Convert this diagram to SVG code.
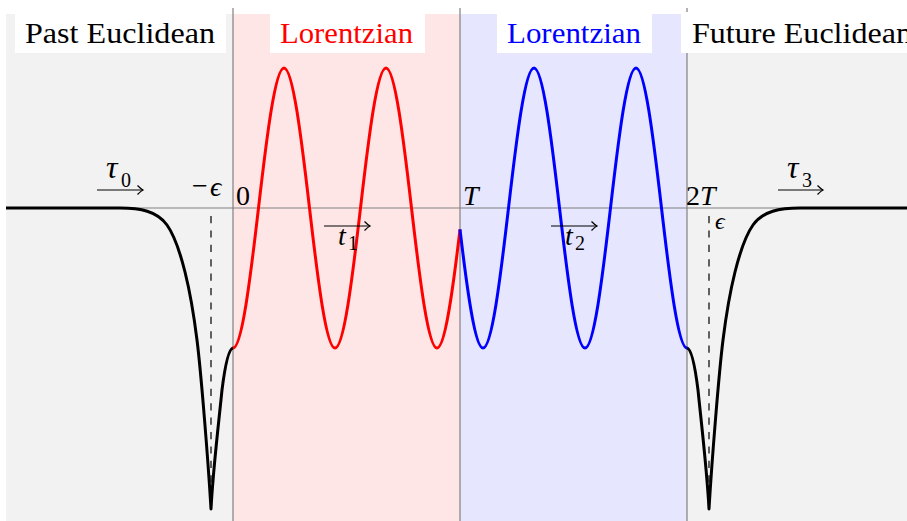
<svg xmlns="http://www.w3.org/2000/svg" width="907" height="521" viewBox="0 0 907 521">
<style>
.ax{stroke:#808080;stroke-width:1.2;fill:none}
.crv{fill:none;stroke-width:3;stroke-linejoin:round}
.dash{stroke:#000;stroke-width:1.2;stroke-dasharray:7.2 7.2;fill:none}
.arr{stroke:#000;stroke-width:1.2;fill:none;marker-end:url(#ah)}
.lbl{font-family:"Liberation Serif","DejaVu Serif",serif;font-size:29px}
.m{font-family:"Liberation Serif","DejaVu Serif",serif;font-size:28px;font-style:italic;fill:#000}
.tau{font-family:"Liberation Serif","DejaVu Serif",serif;font-size:32px;font-style:italic;fill:#000}
.mu{font-family:"Liberation Serif","DejaVu Serif",serif;font-size:28px;fill:#000}
.sub{font-family:"Liberation Serif","DejaVu Serif",serif;font-size:20px;fill:#000}
.box{fill:#fff}
</style>
<defs>
<marker id="ah" viewBox="-7 -6 9 12" refX="0" refY="0" markerWidth="9" markerHeight="12" markerUnits="userSpaceOnUse" orient="auto">
<path d="M-5.5,-4.5 Q-2,-1 0,0 Q-2,1 -5.5,4.5" fill="none" stroke="#000" stroke-width="1.2"/>
</marker>
</defs>
<rect width="907" height="521" fill="#fff"/>
<g id="regions">
<rect x="6" y="14" width="901" height="507" fill="#f2f2f2"/>
<rect x="233" y="14" width="227" height="507" fill="#ffe6e6"/>
<rect x="460" y="14" width="227" height="507" fill="#e6e6ff"/>
</g>
<g id="axes">
<line class="ax" x1="6" y1="208" x2="907" y2="208"/>
<line class="ax" x1="233" y1="8" x2="233" y2="521"/>
<line class="ax" x1="460" y1="8" x2="460" y2="521"/>
<line class="ax" x1="687" y1="8" x2="687" y2="521"/>
<line class="dash" x1="211" y1="216" x2="211" y2="505"/>
<line class="dash" x1="709" y1="216" x2="709" y2="505"/>
</g>
<g id="connectors">
<path id="blackL" class="crv" stroke="#000" d="M6,208 L120,208 C140,208 157,211 167,225 C173,233.4 180,252 185,272 C189,288 193,308 197,340 C201,372 208,459 211,509 C213,470 219,420 222,390 C224,374 228,349 233,348"/>
<use href="#blackL" transform="translate(920,0) scale(-1,1)"/>
<path class="crv" stroke="#f00" d="M233,348 c8.785,0 17.183,-68.28 25.5,-140 c8.317,-71.72 16.715,-140 25.5,-140 c8.785,0 17.183,68.28 25.5,140 c8.317,71.72 16.715,140 25.5,140 c8.785,0 17.183,-68.28 25.5,-140 c8.317,-71.72 16.715,-140 25.5,-140 c8.785,0 17.183,68.28 25.5,140 c8.317,71.72 16.715,140 25.5,140 C444.67,348 452.33,294.7 460,229.4"/>
<path class="crv" stroke="#00f" d="M460,229.4 C467.67,294.7 475.33,348 483,348 c8.785,0 17.183,-68.28 25.5,-140 c8.317,-71.72 16.715,-140 25.5,-140 c8.785,0 17.183,68.28 25.5,140 c8.317,71.72 16.715,140 25.5,140 c8.785,0 17.183,-68.28 25.5,-140 c8.317,-71.72 16.715,-140 25.5,-140 c8.785,0 17.183,68.28 25.5,140 c8.317,71.72 16.715,140 25.5,140"/>
<line class="arr" x1="97" y1="190" x2="143" y2="190"/>
<line class="arr" x1="324" y1="226" x2="370" y2="226"/>
<line class="arr" x1="551" y1="226" x2="597" y2="226"/>
<line class="arr" x1="778" y1="190" x2="823" y2="190"/>
</g>
<g id="past-euclidean">
<rect class="box" x="15" y="12" width="211" height="41"/>
<text class="lbl" x="25" y="43" fill="#000" textLength="190" lengthAdjust="spacingAndGlyphs">Past Euclidean</text>
</g>
<g id="lorentzian-1">
<rect class="box" x="270" y="14" width="155" height="39"/>
<text class="lbl" x="280" y="43" fill="#f00" textLength="133" lengthAdjust="spacingAndGlyphs">Lorentzian</text>
</g>
<g id="lorentzian-2">
<rect class="box" x="497" y="14" width="155" height="39"/>
<text class="lbl" x="507" y="43" fill="#00f" textLength="134" lengthAdjust="spacingAndGlyphs">Lorentzian</text>
</g>
<g id="future-euclidean">
<rect class="box" x="681" y="12" width="226" height="41"/>
<text class="lbl" x="692" y="43" fill="#000" textLength="220" lengthAdjust="spacingAndGlyphs">Future Euclidean</text>
</g>
<g id="tick-labels">
<text class="mu" x="192" y="195">−</text>
<text class="m" x="210" y="196">ϵ</text>
<text class="mu" x="236" y="205">0</text>
<text class="m" x="463" y="205">T</text>
<text class="mu" x="686" y="205">2</text>
<text class="m" x="700" y="205">T</text>
<text class="m" x="715" y="229" style="font-size:24px">ϵ</text>
</g>
<g id="time-labels">
<text class="tau" x="106" y="178">τ</text>
<text class="sub" x="121" y="187">0</text>
<text class="m" x="338" y="245">t</text>
<text class="sub" x="348" y="250">1</text>
<text class="m" x="565" y="245">t</text>
<text class="sub" x="575" y="250">2</text>
<text class="tau" x="787" y="178">τ</text>
<text class="sub" x="802" y="187">3</text>
</g>
</svg>
